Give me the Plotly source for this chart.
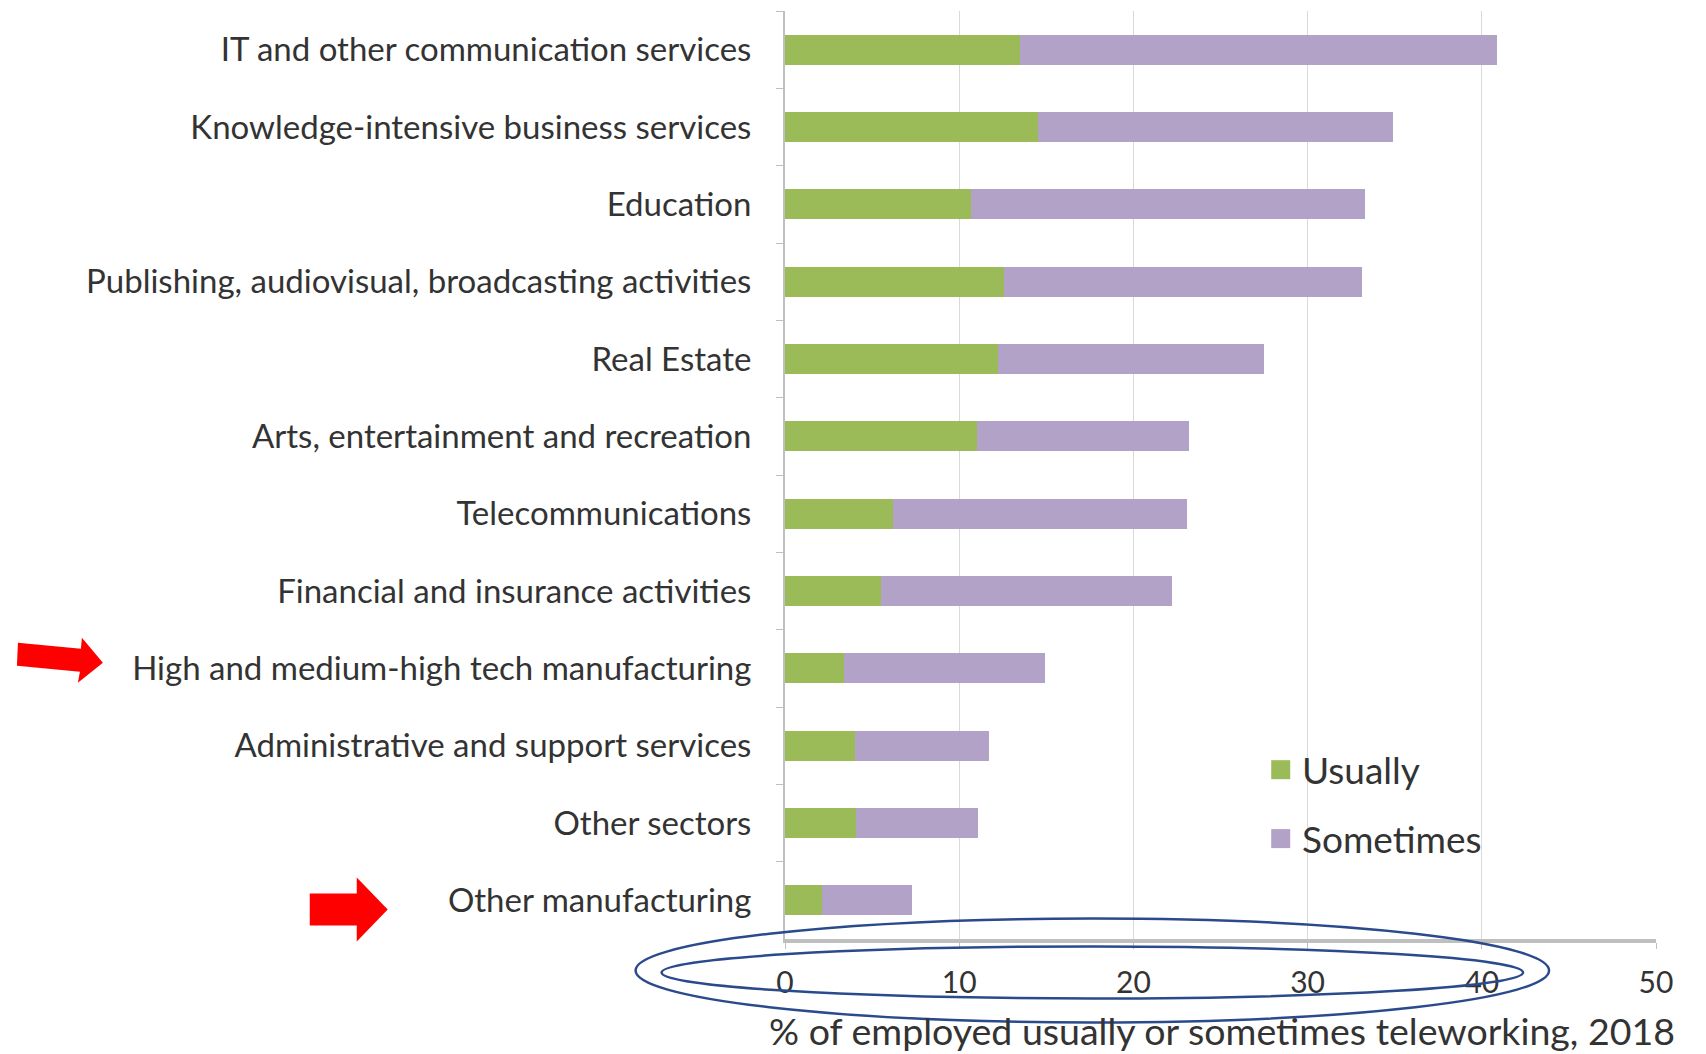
import plotly.graph_objects as go

categories = [
    "IT and other communication services",
    "Knowledge-intensive business services",
    "Education",
    "Publishing, audiovisual, broadcasting activities",
    "Real Estate",
    "Arts, entertainment and recreation",
    "Telecommunications",
    "Financial and insurance activities",
    "High and medium-high tech manufacturing",
    "Administrative and support services",
    "Other sectors",
    "Other manufacturing",
]
usually = [13.5, 14.5, 10.7, 12.6, 12.2, 11.0, 6.2, 5.5, 3.4, 4.0, 4.1, 2.1]
sometimes = [27.4, 20.4, 22.6, 20.5, 15.3, 12.2, 16.9, 16.7, 11.5, 7.7, 7.0, 5.2]
x_ticks = [0, 10, 20, 30, 40, 50]
x_title = "% of employed usually or sometimes teleworking, 2018"

GREEN = "#9BBB59"
PURPLE = "#B3A2C7"
FONT = "Lato"
TXT = "#333333"

W, H = 1706, 1054
L, R, T, B = 784.5, 50, 10.5, 114.5

fig = go.Figure()
fig.add_trace(go.Bar(y=categories, x=usually, orientation="h", name="Usually",
                     marker=dict(color=GREEN, line=dict(width=0)), showlegend=False))
fig.add_trace(go.Bar(y=categories, x=sometimes, orientation="h", name="Sometimes",
                     marker=dict(color=PURPLE, line=dict(width=0)), showlegend=False))

fig.update_layout(
    width=W, height=H,
    margin=dict(l=L, r=R, t=T, b=B, pad=0),
    barmode="stack", bargap=0.61,
    plot_bgcolor="white", paper_bgcolor="white",
    font=dict(family=FONT, color=TXT, size=28),
)
fig.update_xaxes(
    range=[0, 50], tickvals=x_ticks, showgrid=True, gridcolor="#D9D9D9", gridwidth=1.2,
    showline=True, linecolor="#BFBFBF", linewidth=3.5, ticks="outside", ticklen=6,
    tickcolor="#BFBFBF", tickfont=dict(size=30, family=FONT, color=TXT),
    ticklabelstandoff=8, zeroline=False, fixedrange=True,
)
fig.update_yaxes(
    categoryorder="array", categoryarray=categories, autorange="reversed",
    showline=True, linecolor="#BFBFBF", linewidth=2, ticks="outside", ticklen=7,
    tickcolor="#BFBFBF", tickson="boundaries", showgrid=False,
    tickfont=dict(size=33, family=FONT, color=TXT), ticklabelstandoff=25,
)


def px_x(p):
    return (p - L) / (W - L - R)


def px_y(p):
    return 1 - (p - T) / (H - T - B)


# x-axis title
fig.add_annotation(text=x_title, xref="paper", yref="paper",
                   x=px_x(1677), y=px_y(1031),
                   xanchor="right", yanchor="middle", showarrow=False,
                   font=dict(size=37.5, family=FONT, color=TXT))

# legend (manual)
for label, color, cy in [("Usually", GREEN, 770), ("Sometimes", PURPLE, 839)]:
    fig.add_shape(type="rect", xref="paper", yref="paper",
                  x0=px_x(1271), x1=px_x(1290), y0=px_y(cy - 9.5), y1=px_y(cy + 9.5),
                  fillcolor=color, line=dict(width=0))
    fig.add_annotation(text=label, xref="paper", yref="paper", x=px_x(1300), y=px_y(cy),
                       xanchor="left", yanchor="middle", showarrow=False,
                       font=dict(size=37, family=FONT, color=TXT))

# red arrows (pixel outlines)
arrow1 = [(17, 643), (80, 649), (81, 638), (102, 663), (77, 683), (79, 672), (16, 666)]
arrow2 = [(309, 894), (356, 894), (356, 878), (387, 910), (356, 942), (356, 926), (309, 926)]


def to_paper_path(pts):
    segs = []
    for i, (xx, yy) in enumerate(pts):
        segs.append(("M" if i == 0 else "L") + f" {px_x(xx):.5f},{px_y(yy):.5f}")
    return " ".join(segs) + " Z"


for pts in (arrow1, arrow2):
    fig.add_shape(type="path", xref="paper", yref="paper", path=to_paper_path(pts),
                  fillcolor="#FF0000", line=dict(width=0))

# blue ellipses
for (x0, x1, y0, y1) in [(635, 1549, 919, 1023), (661, 1523, 947, 999)]:
    fig.add_shape(type="circle", xref="paper", yref="paper",
                  x0=px_x(x0), x1=px_x(x1), y0=px_y(y1), y1=px_y(y0),
                  line=dict(color="#2B4A8C", width=2.5), fillcolor="rgba(0,0,0,0)")

fig.write_html("out.html")
